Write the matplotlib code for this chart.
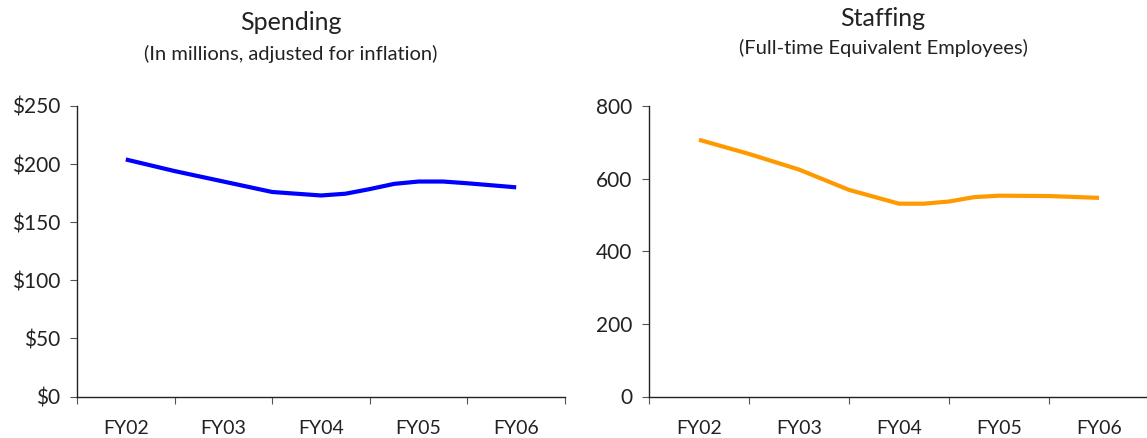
import numpy as np
import matplotlib
matplotlib.use("Agg")
import matplotlib.pyplot as plt
from matplotlib.ticker import FixedLocator, NullFormatter

plt.rcParams['font.family'] = ['Lato', 'DejaVu Sans']

# categories and readings (x in category units, FY02 = 0)
years = ['FY02', 'FY03', 'FY04', 'FY05', 'FY06']

spend_x = [0, 0.5, 1, 1.5, 2, 2.25, 2.5, 2.75, 3, 3.25, 3.5, 4]
spend_y = [204, 194, 185, 176, 173, 174.5, 178.5, 183, 185, 185, 183.5, 180]

staff_x = [0, 0.5, 1, 1.5, 2, 2.25, 2.5, 2.75, 3, 3.5, 4]
staff_y = [707, 668, 625, 569, 531, 531, 537, 549, 553, 552, 547]

spend_ticks = [0, 50, 100, 150, 200, 250]
staff_ticks = [0, 200, 400, 600, 800]

W, H = 1147, 438
fig = plt.figure(figsize=(W / 100, H / 100), dpi=100)

def px_axes(x0, x1, y0, y1):
    return fig.add_axes([x0 / W, 1 - y1 / H, (x1 - x0) / W, (y1 - y0) / H])

def style(ax, yticks, fmt):
    n = len(years)
    ax.set_xlim(-0.5, n - 0.5)
    ax.set_ylim(yticks[0], yticks[-1])
    for s in ['top', 'right']:
        ax.spines[s].set_visible(False)
    for s in ['left', 'bottom']:
        ax.spines[s].set_color('#222222')
        ax.spines[s].set_linewidth(1.0)
    # tick marks between categories, labels at category centres
    ax.xaxis.set_major_locator(FixedLocator(np.arange(-0.5, n, 1.0)))
    ax.xaxis.set_major_formatter(NullFormatter())
    ax.xaxis.set_minor_locator(FixedLocator(np.arange(n)))
    ax.set_xticklabels(years, minor=True)
    ax.tick_params(axis='x', which='major', direction='out', length=5, color='#555555')
    ax.tick_params(axis='x', which='minor', length=0, pad=17, labelsize=14, labelcolor='#222222')
    ax.set_yticks(yticks)
    ax.set_yticklabels([fmt(v) for v in yticks])
    ax.tick_params(axis='y', direction='out', length=5, pad=7, labelsize=15,
                   color='#555555', labelcolor='#222222')

ax1 = px_axes(77, 565, 106, 396.5)
ax1.plot(spend_x, spend_y, color='#0000ff', lw=3, solid_capstyle='butt', clip_on=False)
style(ax1, spend_ticks, lambda v: '$%d' % v)

ax2 = px_axes(649, 1149, 106, 396.5)
ax2.plot(staff_x, staff_y, color='#ff9900', lw=3, solid_capstyle='butt', clip_on=False)
style(ax2, staff_ticks, lambda v: '%d' % v)

fig.text(291 / W, 1 - 23 / H, 'Spending', ha='center', va='center', fontsize=18, color='#222222')
fig.text(291 / W, 1 - 54 / H, '(In millions, adjusted for inflation)', ha='center', va='center',
         fontsize=14.5, color='#222222')
fig.text(883 / W, 1 - 18 / H, 'Staffing', ha='center', va='center', fontsize=18, color='#222222')
fig.text(883 / W, 1 - 48 / H, '(Full-time Equivalent Employees)', ha='center', va='center',
         fontsize=14.5, color='#222222')

fig.savefig('out.png', dpi=100)
